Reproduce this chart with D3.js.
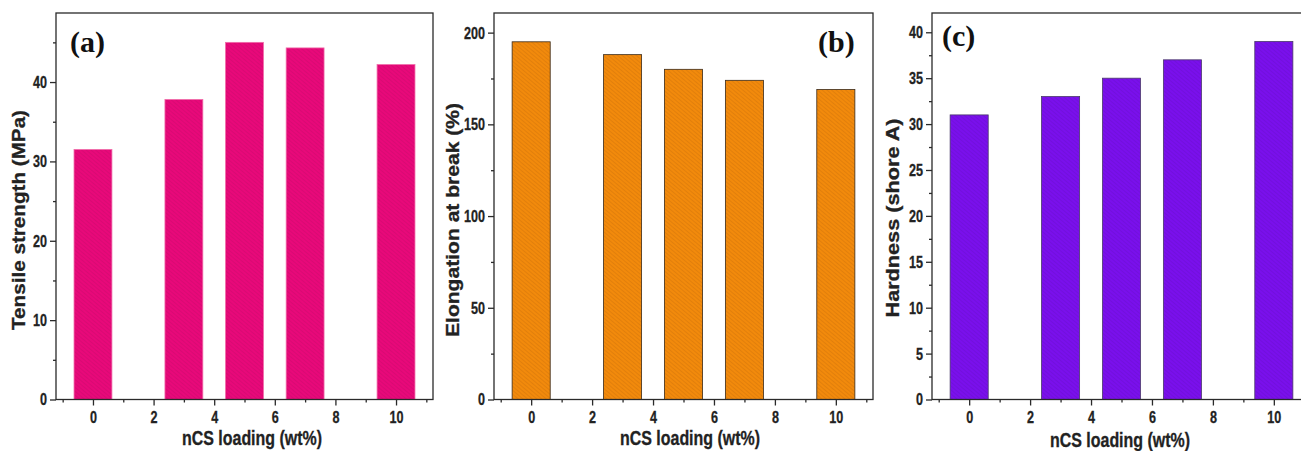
<!DOCTYPE html>
<html>
<head>
<meta charset="utf-8">
<script src="https://cdn.jsdelivr.net/npm/d3@7"></script>
<style>
  html, body { margin: 0; padding: 0; background: #fff; }
  svg { display: block; }
</style>
</head>
<body>
<svg id="chart" width="1301" height="451"></svg>
<script>
// nCS loading levels (wt%) shared by all three panels
const loading = [0, 3, 5, 7, 10];
const xTicks = [0, 2, 4, 6, 8, 10];

// (a) tensile strength, MPa
const tensile = [31.5, 37.8, 45.0, 44.3, 42.2];
const tensileTicks = [0, 10, 20, 30, 40];
// (b) elongation at break, %
const elongation = [195, 188, 180, 174, 169];
const elongationTicks = [0, 50, 100, 150, 200];
// (c) hardness, shore A
const hardness = [31, 33, 35, 37, 39];
const hardnessTicks = [0, 5, 10, 15, 20, 25, 30, 35, 40];

const svg = d3.select("#chart");
const defs = svg.append("defs");

const sans = "'Liberation Sans', Arial, Helvetica, sans-serif";
const serif = "'Liberation Serif', 'Times New Roman', serif";
const ink = "#222";

// squeeze a text horizontally to imitate a condensed face
function condense(sel, k) {
  sel.each(function () {
    const len = this.getComputedTextLength();
    d3.select(this).attr("textLength", len * k).attr("lengthAdjust", "spacingAndGlyphs");
  });
}

function hatch(id, base, line) {
  const p = defs.append("pattern")
    .attr("id", id).attr("patternUnits", "userSpaceOnUse")
    .attr("width", 3).attr("height", 3)
    .attr("patternTransform", "rotate(-50)");
  p.append("rect").attr("width", 3).attr("height", 3).attr("fill", base);
  p.append("line").attr("x1", 0).attr("y1", 0).attr("x2", 0).attr("y2", 3)
    .attr("stroke", line).attr("stroke-width", 0.9).attr("opacity", 0.6);
}
hatch("hatchPink", "#e8097a", "#b0085c");
hatch("hatchOrange", "#f28a0c", "#b05c08");
hatch("hatchPurple", "#7a10ec", "#5a0cb0");

const panels = [
  { left: 56, right: 433, values: tensile, ticks: tensileTicks, minor: 5, yMax: 48.7,
    fill: "url(#hatchPink)", stroke: "#f06aa8",
    yTitle: "Tensile strength (MPa)", yTitleX: 20, yTitleY: 220, yTitleLen: 220,
    tag: "(a)", tagX: 70, tagY: 52, xTitleX: 252, xTitleY: 445 },
  { left: 494, right: 873, values: elongation, ticks: elongationTicks, minor: 25, yMax: 210.7,
    fill: "url(#hatchOrange)", stroke: "#3a2a1a",
    yTitle: "Elongation at break (%)", yTitleX: 454, yTitleY: 220, yTitleLen: 234,
    tag: "(b)", tagX: 818, tagY: 52, xTitleX: 690, xTitleY: 445 },
  { left: 932, right: 1311, values: hardness, ticks: hardnessTicks, minor: 2.5, yMax: 42.1,
    fill: "url(#hatchPurple)", stroke: "#4a3a6a",
    yTitle: "Hardness (shore A)", yTitleX: 894, yTitleY: 218, yTitleLen: 199,
    tag: "(c)", tagX: 942, tagY: 46, xTitleX: 1120, xTitleY: 447 }
];

const plotTop = 13, plotBottom = 399.5;
const axisColor = "#2a2a2a";

function styleTickText(s) {
  s.selectAll("text").attr("font-family", sans).attr("font-weight", "bold")
    .attr("font-size", 17).attr("fill", ink)
    .attr("stroke", ink).attr("stroke-width", 0.3)
    .call(condense, 0.74);
}

panels.forEach(p => {
  const x = d3.scaleLinear().domain([-1.22, 11.22]).range([p.left, p.right]);
  const y = d3.scaleLinear().domain([0, p.yMax]).range([plotBottom, plotTop]);
  const g = svg.append("g");

  // bars
  const bw = x(1.25) - x(0);
  g.selectAll("rect.bar").data(loading.map((d, i) => ({ x: d, v: p.values[i] })))
    .join("rect").attr("class", "bar")
    .attr("x", d => x(d.x) - bw / 2)
    .attr("y", d => y(d.v))
    .attr("width", bw)
    .attr("height", d => y(0) - y(d.v))
    .attr("fill", p.fill)
    .attr("stroke", p.stroke)
    .attr("stroke-width", 0.8);

  // frame
  g.append("rect")
    .attr("x", p.left).attr("y", plotTop)
    .attr("width", p.right - p.left).attr("height", plotBottom - plotTop)
    .attr("fill", "none").attr("stroke", axisColor).attr("stroke-width", 1.3);

  // y axis, major + minor ticks
  const minorY = d3.range(0, p.yMax, p.minor).filter(v => !p.ticks.some(t => Math.abs(t - v) < 1e-6));
  const yMinor = d3.axisLeft(y).tickValues(minorY).tickSize(3).tickFormat("");
  g.append("g").attr("transform", `translate(${p.left},0)`).call(yMinor)
    .call(s => s.select(".domain").remove())
    .call(s => s.selectAll("line").attr("stroke", axisColor).attr("stroke-width", 1.3));
  const yAxis = d3.axisLeft(y).tickValues(p.ticks).tickSize(6).tickPadding(3);
  g.append("g").attr("transform", `translate(${p.left},0)`).call(yAxis)
    .call(s => s.select(".domain").remove())
    .call(s => s.selectAll("line").attr("stroke", axisColor).attr("stroke-width", 1.3))
    .call(styleTickText);

  // x axis, major + minor ticks
  const xMinor = d3.axisBottom(x).tickValues([-1, 1, 3, 5, 7, 9, 11]).tickSize(3).tickFormat("");
  g.append("g").attr("transform", `translate(0,${plotBottom})`).call(xMinor)
    .call(s => s.select(".domain").remove())
    .call(s => s.selectAll("line").attr("stroke", axisColor).attr("stroke-width", 1.3));
  const xAxis = d3.axisBottom(x).tickValues(xTicks).tickSize(6).tickPadding(5);
  g.append("g").attr("transform", `translate(0,${plotBottom})`).call(xAxis)
    .call(s => s.select(".domain").remove())
    .call(s => s.selectAll("line").attr("stroke", axisColor).attr("stroke-width", 1.3))
    .call(styleTickText);

  // titles
  g.append("text")
    .attr("transform", `translate(${p.yTitleX},${p.yTitleY}) rotate(-90)`)
    .attr("text-anchor", "middle").attr("dominant-baseline", "middle")
    .attr("font-family", sans).attr("font-weight", "bold").attr("font-size", 19)
    .attr("textLength", p.yTitleLen).attr("lengthAdjust", "spacingAndGlyphs")
    .attr("fill", ink).attr("stroke", ink).attr("stroke-width", 0.3)
    .text(p.yTitle);

  g.append("text")
    .attr("x", p.xTitleX).attr("y", p.xTitleY)
    .attr("text-anchor", "middle")
    .attr("font-family", sans).attr("font-weight", "bold").attr("font-size", 20)
    .attr("textLength", 140).attr("lengthAdjust", "spacingAndGlyphs")
    .attr("fill", ink).attr("stroke", ink).attr("stroke-width", 0.3)
    .text("nCS loading (wt%)");

  g.append("text")
    .attr("x", p.tagX).attr("y", p.tagY)
    .attr("font-family", serif).attr("font-weight", "bold").attr("font-size", 30)
    .attr("fill", "#111").text(p.tag);
});
</script>
</body>
</html>
